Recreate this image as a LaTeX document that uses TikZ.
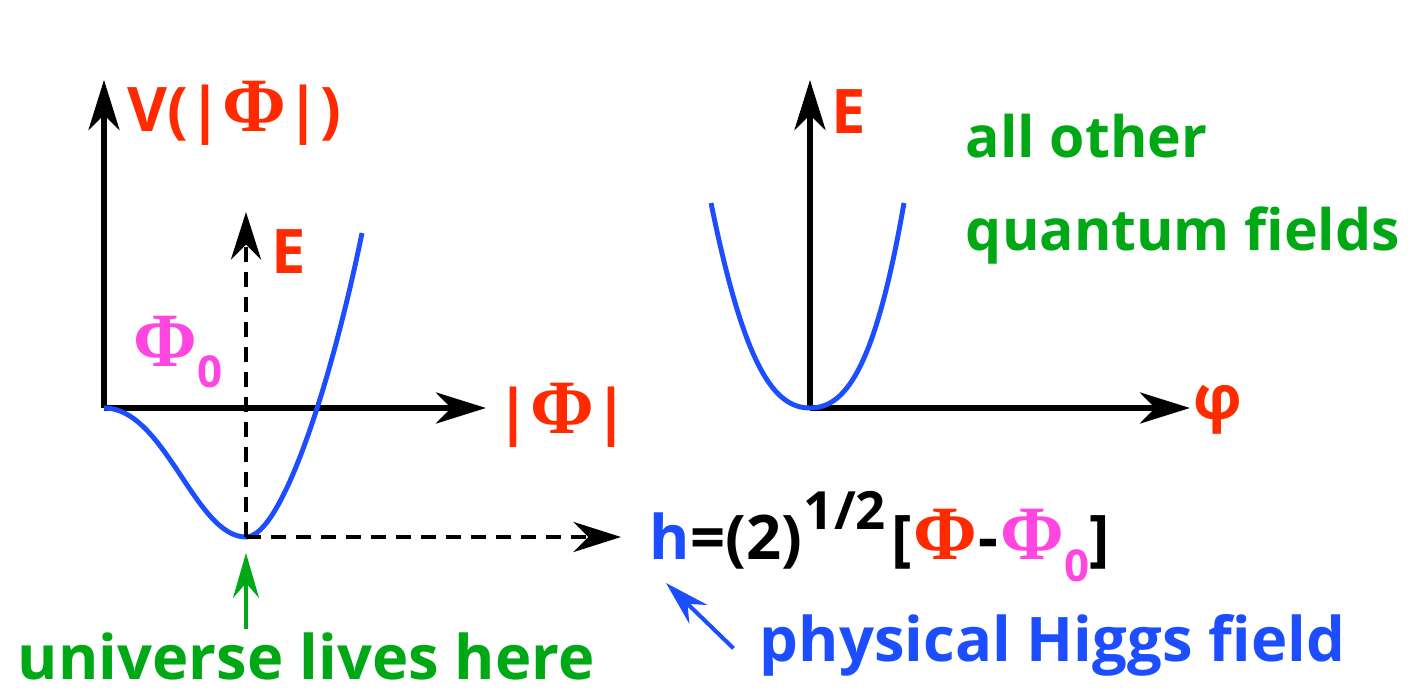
\documentclass[tikz,border=0pt]{standalone}
\usepackage{fontspec}
\setmainfont{Open Sans}
\newfontfamily\phifont{Liberation Serif}[Scale=1.25]
\usetikzlibrary{arrows.meta, positioning, calc}

\definecolor{hred}{RGB}{255,42,0}
\definecolor{hpink}{RGB}{255,70,225}
\definecolor{hblue}{RGB}{28,78,255}
\definecolor{hgreen}{RGB}{0,168,22}

\newcommand{\Phisym}{{\phifont Φ}}
\newcommand{\zerosub}{\raisebox{-0.35em}{\fontsize{25}{25}\selectfont 0}}
\newcommand{\absPhi}{|\Phisym|}

\begin{document}
\begin{tikzpicture}[
    x=0.02cm, y=-0.02cm,
    font=\bfseries\fontsize{35}{42}\selectfont,
    axis/.style = {black, line width=3.4pt, -{Stealth[length=1cm, width=0.62cm, inset=0.3cm]}},
    pot/.style = {hblue, line width=2.8pt},
    guide/.style = {black, line width=2.8pt, dash pattern=on 0.3cm off 0.2cm,
                    -{Stealth[length=0.95cm, width=0.6cm, inset=0.3cm]}},
    pointer/.style = {line width=2.3pt, -{Stealth[length=0.9cm, width=0.52cm, inset=0.3cm]}},
    lbl/.style = {inner sep=2pt},
]
\useasboundingbox (0,0) rectangle (1421,695);

% left plot: Higgs potential
\coordinate (oL) at (104,408);
\coordinate (vtopL) at (104,80);
\coordinate (hendL) at (486,408);
\coordinate (vmin) at (246,537);
\coordinate (etopL) at (246,212);

\draw[axis] (oL) -- (vtopL);
\draw[axis] (oL) -- (hendL);

\draw[pot] (oL) .. controls (165,408) and (195,537) .. (vmin)
               .. controls (282,537) and (332,380) .. (362,233);

\draw[guide] (vmin) -- (etopL);

\node[lbl, anchor=west, text=hred] (vlabel) at (124,113) {V(\absPhi)};
\node[lbl, anchor=west, text=hred] (eleft) at (268,252) {E};
\node[lbl, text=hpink] (phinull) at (178,352) {\Phisym\zerosub};
\node[lbl, anchor=west, text=hred] (absphi) at (493,415) {\absPhi};

% right plot: ordinary fields
\coordinate (oR) at (810,408);
\coordinate (vtopR) at (810,80);
\coordinate (hendR) at (1190,408);

\draw[axis] (oR) -- (vtopR);
\draw[axis] (oR) -- (hendR);
\draw[pot] (711,203) .. controls (745,370) and (775,408) .. (oR)
               .. controls (845,408) and (875,370) .. (904,203);

\node[lbl, anchor=west, text=hred] (eright) at (828,112) {E};
\node[lbl, anchor=west, text=hred] (varphi) at (1190,410) {φ};
\node[lbl, anchor=west, text=hgreen, align=left, font=\bfseries\fontsize{32.5}{53}\selectfont]
    (others) at (962,189) {all other\\quantum fields};

% physical Higgs field
\node[lbl, anchor=base west] (hform) at (646,560)
    {\textcolor{hblue}{h}=(2)\kern1pt\raisebox{0.5em}{\fontsize{30}{30}\selectfont 1/2}\kern3pt[\kern1pt\textcolor{hred}{\Phisym}\kern1pt-\kern1pt\textcolor{hpink}{\Phisym\zerosub}]};
\draw[guide] (vmin) -- ([xshift=-0.5cm]vmin -| hform.west);

\node[lbl, anchor=base west, text=hblue] (phys) at (756,662) {physical Higgs field};
\coordinate (htip) at (666,583);
\draw[pointer, hblue] ([xshift=-0.45cm, yshift=-0.05cm]phys.west) -- (htip);

\node[lbl, anchor=base west, text=hgreen] (univ) at (14,680) {universe lives here};
\draw[pointer, hgreen] (univ.north -| vmin) -- ([yshift=-0.32cm]vmin);

\end{tikzpicture}
\end{document}
